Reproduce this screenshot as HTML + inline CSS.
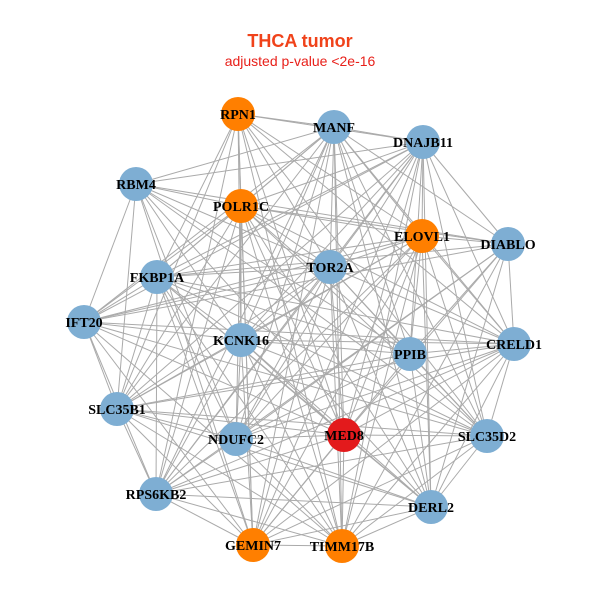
<!DOCTYPE html>
<html><head><meta charset="utf-8"><style>
html,body{margin:0;padding:0;background:#fff;width:600px;height:600px;overflow:hidden}
</style></head><body>
<svg id="s" width="600" height="600" xmlns="http://www.w3.org/2000/svg">
<rect width="600" height="600" fill="#fff"/>
<text x="300" y="47" text-anchor="middle" font-family="Liberation Sans, sans-serif" font-weight="bold" font-size="18" fill="#f0421a">THCA tumor</text>
<text x="300" y="66" text-anchor="middle" font-family="Liberation Sans, sans-serif" font-size="14" fill="#e8201a">adjusted p-value &lt;2e-16</text>
<g id="e" stroke="#aaaaaa" stroke-width="1"></g>
<g id="n"></g>
</svg>
<script>
var N=[["RPN1",238,114,"o"],["MANF",334,127,"b"],["DNAJB11",423,142,"b"],["RBM4",136,184,"b"],["POLR1C",241,206,"o"],["ELOVL1",422,236,"o"],["DIABLO",508,244,"b"],["TOR2A",330,267,"b"],["FKBP1A",157,277,"b"],["IFT20",84,322,"b"],["KCNK16",241,340,"b"],["CRELD1",514,344,"b"],["PPIB",410,354,"b"],["SLC35B1",117,409,"b"],["MED8",344,435,"r"],["NDUFC2",236,439,"b"],["SLC35D2",487,436,"b"],["RPS6KB2",156,494,"b"],["DERL2",431,507,"b"],["GEMIN7",253,545,"o"],["TIMM17B",342,546,"o"]];
var C={o:"#ff7f00",b:"#7eaed3",r:"#e31a1c"};
var ns="http://www.w3.org/2000/svg",E=document.getElementById("e"),G=document.getElementById("n");
for(var i=0;i<N.length;i++)for(var j=i+1;j<N.length;j++){if((i*7+j*3)%9==0)continue;var l=document.createElementNS(ns,"line");l.setAttribute("x1",N[i][1]);l.setAttribute("y1",N[i][2]);l.setAttribute("x2",N[j][1]);l.setAttribute("y2",N[j][2]);E.appendChild(l);}
N.forEach(function(d){var c=document.createElementNS(ns,"circle");c.setAttribute("cx",d[1]);c.setAttribute("cy",d[2]);c.setAttribute("r",17);c.setAttribute("fill",C[d[3]]);G.appendChild(c);});
N.forEach(function(d){var t=document.createElementNS(ns,"text");t.setAttribute("x",d[1]);t.setAttribute("y",d[2]+5);t.setAttribute("text-anchor","middle");t.setAttribute("font-family","Liberation Serif, serif");t.setAttribute("font-weight","bold");t.setAttribute("font-size","14");t.textContent=d[0];G.appendChild(t);});
</script>
</body></html>
